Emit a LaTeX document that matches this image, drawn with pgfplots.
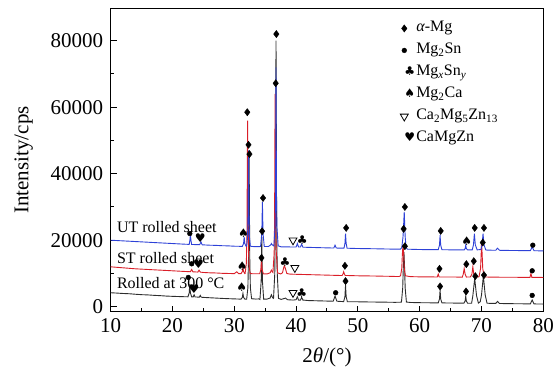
\documentclass[border=0pt]{standalone}
\usepackage{pgfplots}
\pgfplotsset{compat=1.18}
\usepackage{fontspec}
\setmainfont{Liberation Serif}
\newfontfamily\symf{DejaVu Sans}
\definecolor{cRed}{RGB}{218,30,40}
\definecolor{cBlue}{RGB}{45,65,215}
\definecolor{cBlack}{RGB}{45,45,45}
\begin{document}
\begin{tikzpicture}
\begin{axis}[
  scale only axis, width=432.6pt, height=303.4pt,
  xmin=10, xmax=80, ymin=-1500, ymax=89750,
  xtick={10,20,...,80}, ytick={0,20000,...,80000},
  minor x tick num=1, minor y tick num=1,
  tick align=inside, xtick pos=bottom, ytick pos=left,
  major tick length=6pt, minor tick length=3.5pt,
  axis line style={line width=1.1pt},
  tick style={line width=1pt, black},
  scaled y ticks=false,
  /pgf/number format/assume math mode=true,
  /pgf/number format/1000 sep={},
  ticklabel style={font=\fontsize{21}{24}\selectfont},
  yticklabel style={xshift=-4pt},
  xticklabel style={yshift=-3pt},
  xlabel={2\textit{θ}/(°)}, ylabel={Intensity/cps},
  label style={font=\fontsize{21}{24}\selectfont},
  xlabel style={at={(axis description cs:0.5,-0.117)}, anchor=north, inner sep=0pt},
  ylabel style={at={(axis description cs:-0.201,0.5)}, anchor=center, inner sep=0pt},
  legend style={draw=none, fill=none, at={(0.669,0.964)}, anchor=north west,
    font=\fontsize{16}{19}\selectfont, row sep=4pt, inner sep=0pt,
    nodes={inner sep=1pt, text height=11.5pt, text depth=4.5pt}},
  legend cell align=left,
  symb/.style={only marks, legend image code/.code={\draw[mark repeat=2,mark phase=2,##1] plot coordinates {(0cm,0cm) (0.17cm,0cm) (0.34cm,0cm)};}},
  curve/.style={line width=0.9pt, forget plot, mark=none},
]
% Rolled at 300 C (black)
\addplot[curve, cBlack] coordinates {
(10,4200) (11,4100) (12,3980) (13,3900) (14,3750) (15,3620) (16,3550) (17,3420) (18,3330) (19,3200) (20,3120) (21,3060) (22,3000)
(22.5,2980) (22.7,4120) (22.8,6800) (22.9,4120) (23.1,2960)
(23.35,2950) (23.5,3600) (23.65,2930)
(24.35,2880) (24.5,3400) (24.65,2860)
(25,2800) (26,2700) (27,2600) (28,2500) (29,2420) (30,2350)
(31.1,2280) (31.3,2800) (31.4,4000) (31.5,2800) (31.7,2300)
(32.0,2300) (32.2,5700) (32.3,15000) (32.4,45000) (32.5,15000) (32.6,5700) (32.8,2400)
(33.5,2300) (34.0,2350)
(34.15,2200) (34.35,7800) (34.45,21000) (34.55,7800) (34.75,2300)
(35.3,2300) (35.8,2600) (36.0,3600) (36.2,2700)
(36.35,2500) (36.55,10000) (36.65,26000) (36.75,80000) (36.85,26000) (36.95,10000) (37.15,2500)
(37.6,2200) (38.3,2600) (38.6,2100) (39.5,2000) (40.0,2100) (40.2,3000) (40.4,2000) (40.7,2000) (40.9,2800) (41.1,2000)
(42,1850) (43,1800) (44,1750) (45,1700) (46.0,1650) (46.3,3200) (46.6,1650) (47.5,1550)
(47.7,1550) (47.9,3000) (48.0,6500) (48.1,3000) (48.3,1500)
(49,1500) (50,1480) (51,1450) (52,1420) (53,1400) (54,1380) (55,1350) (56,1320) (56.8,1350)
(57.05,1400) (57.25,5600) (57.35,12000) (57.45,16500) (57.55,12000) (57.65,5600) (57.85,1400)
(58.5,1280) (59.5,1220) (60.5,1200) (61.5,1180) (62.5,1160)
(63.0,1150) (63.2,2300) (63.3,5000) (63.4,2300) (63.6,1150)
(64.5,1120) (65.5,1100) (66.5,1080) (67.15,1060) (67.35,1700) (67.45,3200) (67.55,1700) (67.75,1050)
(68.4,1050) (68.6,3300) (68.9,8500) (69.2,3300) (69.5,1100) (69.8,1500) (70.0,3500) (70.3,9200) (70.6,3500) (70.9,1050)
(71.5,1000) (72.3,980) (72.6,1600) (72.9,970) (73.5,950) (74.5,920) (75.5,900) (76.5,880) (77.5,860) (77.9,850) (78.2,2000) (78.5,850) (79,820) (80,800)
};
% ST rolled sheet (red)
\addplot[curve, cRed] coordinates {
(10,12000) (11,11850) (12,11700) (13,11550) (14,11400) (15,11300) (16,11200) (17,11100) (18,11000) (19,10900) (20,10800) (21,10700) (22,10600)
(22.9,10520) (23.1,11200) (23.3,10500) (24.1,10420) (24.3,11000) (24.5,10400)
(25,10300) (26,10200) (27,10150) (28,10050) (29,10000) (30,9950) (30.4,10500) (30.7,9950)
(31.1,9950) (31.3,10600) (31.4,11800) (31.5,10600) (31.7,9950)
(31.75,10000) (31.95,13000) (32.05,23000) (32.15,56000) (32.25,23000) (32.35,13000) (32.55,10000)
(33,9900) (33.8,9900) (34.1,9900) (34.3,11200) (34.4,14000) (34.5,11200) (34.7,9900)
(35.3,9850) (35.8,10200) (36.0,11000) (36.15,10500)
(36.25,10300) (36.45,16000) (36.52,26000) (36.6,64000) (36.68,26000) (36.8,16000) (37.0,10200)
(37.5,9850) (37.8,10200) (38.0,11800) (38.1,12300) (38.25,11600) (38.5,10000)
(39,9800) (40,9750) (41,9700) (42,9650) (43,9600) (44,9550) (45,9500) (46,9450) (47,9400)
(47.45,9400) (47.6,9900) (47.7,10500) (47.8,9900) (47.95,9400)
(49,9350) (50,9300) (51,9280) (52,9250) (53,9220) (54,9180) (55,9150) (56,9100) (56.7,9100)
(56.9,9300) (57.1,11500) (57.2,16000) (57.3,18500) (57.4,16000) (57.5,11500) (57.7,9300)
(58.5,9050) (59.5,9000) (60.5,8980) (61.5,8960) (62.5,8950) (62.85,8950) (63.0,9800) (63.15,8950)
(64,8950) (65,8950) (66,8920) (66.9,8920) (67.05,9800) (67.2,11500) (67.35,9800) (67.55,8920)
(68.2,8950) (68.45,9800) (68.6,12000) (68.75,9800) (69.0,8950)
(69.6,9000) (69.85,11500) (69.95,16000) (70.0,19500) (70.1,16000) (70.2,11500) (70.45,8950)
(71.5,8900) (72.5,8880) (73.5,8870) (74.5,8860) (75.5,8850) (76.5,8840) (77.5,8830) (77.85,8830) (78.0,10000) (78.15,8830) (79,8810) (80,8800)
};
% UT rolled sheet (blue)
\addplot[curve, cBlue] coordinates {
(10,20000) (11,19900) (12,19800) (13,19700) (14,19600) (15,19500) (16,19400) (17,19300) (18,19200) (19,19100) (20,19000) (21,18900) (22,18800)
(22.7,18750) (22.8,19800) (22.9,21500) (23.0,19800) (23.1,18720) (24.4,18650) (24.6,19500) (24.8,18620)
(25,18600) (26,18500) (27,18450) (28,18350) (29,18300) (30,18200)
(31.3,18150) (31.5,19000) (31.6,21000) (31.7,19000) (31.9,18200)
(32.0,18200) (32.15,21000) (32.22,28000) (32.3,47000) (32.38,28000) (32.45,21000) (32.6,18200)
(33,18100) (34.0,18050) (34.25,18100) (34.45,22000) (34.55,31500) (34.65,22000) (34.85,18100)
(35.5,18100) (35.9,18600) (36.0,19000) (36.15,18600)
(36.4,18300) (36.6,24000) (36.68,34000) (36.75,72000) (36.82,34000) (36.9,24000) (37.1,18300)
(37.6,18000) (38.5,18000) (39.5,17950) (40.0,17950) (40.2,19000) (40.4,17950) (40.7,17950) (40.9,18800) (41.1,17900)
(42,17850) (43,17800) (44,17750) (45,17700) (46.1,17650) (46.3,18500) (46.5,17650) (47.5,17600)
(47.75,17600) (47.9,19000) (48.0,22000) (48.1,19000) (48.25,17600)
(49,17550) (50,17500) (51,17480) (52,17450) (53,17420) (54,17380) (55,17350) (56,17300) (56.9,17300)
(57.1,17800) (57.3,21000) (57.5,28500) (57.65,21000) (57.8,17800) (58.0,17300)
(59,17250) (60,17200) (61,17180) (62,17160) (63.0,17150) (63.2,18500) (63.3,21500) (63.4,18500) (63.6,17150)
(64.5,17120) (65.5,17100) (66.5,17080) (67.2,17080) (67.35,17500) (67.45,18500) (67.55,17500) (67.75,17070)
(68.5,17100) (68.7,18600) (68.85,22000) (69.0,18600) (69.3,17100)
(69.9,17200) (70.1,18600) (70.25,22000) (70.4,18600) (70.7,17050)
(71.5,17000) (72.3,16980) (72.6,17600) (72.9,16970) (73.5,16950) (74.5,16920) (75.5,16900) (76.5,16880) (77.5,16860) (77.9,16850) (78.2,18000) (78.5,16850) (79,16820) (80,16800)
};
% phase markers
\addplot[symb, mark=diamond*, mark size=3.6pt, black] coordinates {
(34.65,32700) (34.5,22700) (36.8,82000) (36.7,67200) (32.1,58500) (32.3,48700) (32.45,45900)
(48.1,23700) (57.6,30000) (57.4,23400) (63.4,22800) (68.9,23700) (70.4,23700)
(34.4,14700) (47.9,12300) (57.6,18200) (63.2,11400) (67.55,12800) (68.75,13700) (70.2,19300)
(48.0,7700) (63.3,6100) (67.5,4600) (69.0,9200) (70.4,9500)
};
\addlegendentry{\textit{α}-Mg}
\addplot[symb, mark=*, mark size=2.4pt, black] coordinates {
(22.8,22000) (22.55,8800) (23.1,12900) (46.4,4200) (78.2,3400) (78.2,10800) (78.3,18500)
};
\addlegendentry{Mg\textsubscript{2}Sn}
\addplot[symb, mark=text, text mark={\symf\fontsize{12}{12}\selectfont ♣}, text mark as node=true, text mark style={inner sep=0pt}, black] coordinates {
(41.0,20000) (38.2,13500) (40.9,4000)
};
\addlegendentry{Mg\textsubscript{\textit{x}}Sn\textsubscript{\textit{y}}}
\addplot[symb, mark=text, text mark={\symf\fontsize{12}{12}\selectfont ♠}, text mark as node=true, text mark style={inner sep=0pt}, black] coordinates {
(31.5,22000) (31.3,12300) (31.2,5800) (67.6,19800)
};
\addlegendentry{Mg\textsubscript{2}Ca}
\addplot[symb, mark=triangle, mark size=4.6pt, mark options={rotate=180, line width=0.8pt, fill=none}, black] coordinates {
(39.5,20000) (39.8,11700) (39.5,4200)
};
\addlegendentry{Ca\textsubscript{2}Mg\textsubscript{5}Zn\textsubscript{13}}
\addplot[symb, mark=text, text mark={\symf\fontsize{12}{12}\selectfont ♥}, text mark as node=true, text mark style={inner sep=0pt}, black] coordinates {
(24.5,20700) (24.2,12700) (23.5,5200)
};
\addlegendentry{CaMgZn}
\node[anchor=base west, inner sep=0pt, font=\fontsize{16}{19}\selectfont] at (axis cs:11,22470) {UT rolled sheet};
\node[anchor=base west, inner sep=0pt, font=\fontsize{16}{19}\selectfont] at (axis cs:11,13050) {ST rolled sheet};
\node[anchor=base west, inner sep=0pt, font=\fontsize{16}{19}\selectfont] at (axis cs:11,5400) {Rolled at 300 °C};
\end{axis}
\path (-110.7pt,-58.3pt) rectangle (449.3pt,311.7pt);
\end{tikzpicture}
\end{document}
